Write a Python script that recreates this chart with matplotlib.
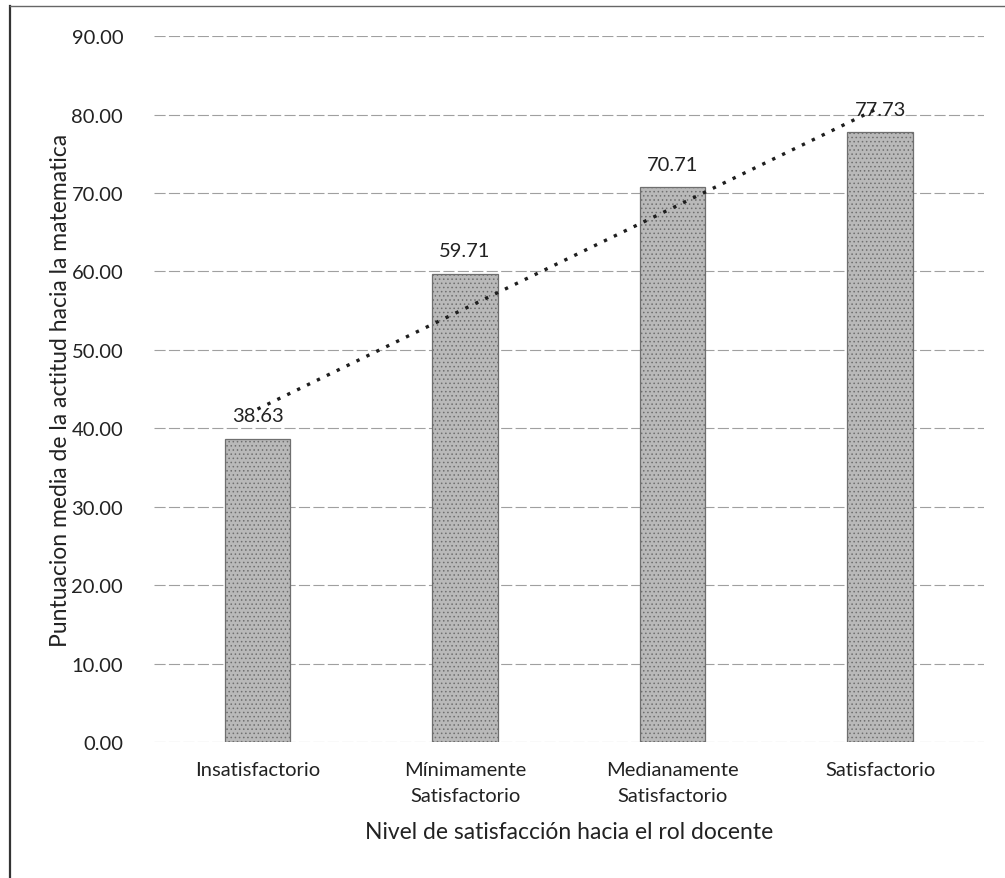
import numpy as np
import matplotlib.pyplot as plt
from matplotlib.lines import Line2D

plt.rcParams['font.family'] = ['Lato', 'DejaVu Sans']
plt.rcParams['hatch.color'] = '#8c8c8c'
plt.rcParams['hatch.linewidth'] = 0.6

categories = ["Insatisfactorio", "Mínimamente\nSatisfactorio",
              "Medianamente\nSatisfactorio", "Satisfactorio"]
values = [38.63, 59.71, 70.71, 77.73]
yticks = [0, 10, 20, 30, 40, 50, 60, 70, 80, 90]

fig = plt.figure(figsize=(10.05, 8.79), dpi=100)
ax = fig.add_axes([0.153, 0.1547, 0.826, 0.803])

x = np.arange(len(categories))
ax.bar(x, values, width=0.315, color="#b9b9b9", edgecolor="#6f6f6f",
       linewidth=0.9, hatch="....", zorder=3)

# linear trend line (dotted), fitted to the bar values
slope, icpt = np.polyfit(x, values, 1)
xt = np.array([x[0], x[-1]])
ax.plot(xt, slope * xt + icpt, linestyle=(0, (1, 2.3)), color="#1e1e1e",
        linewidth=2.4, zorder=4)

for xi, v in zip(x, values):
    ax.text(xi, v + 1.9, f"{v:.2f}", ha="center", va="bottom",
            fontsize=14.5, color="#222222", zorder=5)

ax.set_xlim(-0.5, 3.5)
ax.set_ylim(0, 90)
ax.set_yticks(yticks)
ax.set_yticklabels([f"{t:.2f}" for t in yticks])
ax.set_xticks(x)
ax.set_xticklabels(categories, linespacing=1.6, va="top")
ax.tick_params(length=0, labelsize=14.5, colors="#222222")
ax.tick_params(axis="x", pad=14)
ax.tick_params(axis="y", pad=22)
ax.grid(axis="y", color="#a0a0a0", linestyle=(0, (10, 3)), linewidth=0.8, zorder=0)
for s in ax.spines.values():
    s.set_visible(False)

ax.set_ylabel("Puntuacion media de la actitud hacia la matematica",
              fontsize=16.5, color="#222222", labelpad=0)
ax.set_xlabel("Nivel de satisfacción hacia el rol docente",
              fontsize=16.5, color="#222222", labelpad=12)

# scanned page border (left and top)
fig.add_artist(Line2D([0.010, 0.010], [0.0, 0.992], transform=fig.transFigure,
                      color="#333333", linewidth=1.6))
fig.add_artist(Line2D([0.010, 1.0], [0.992, 0.992], transform=fig.transFigure,
                      color="#666666", linewidth=1.0))

fig.savefig("out.png", dpi=100)
